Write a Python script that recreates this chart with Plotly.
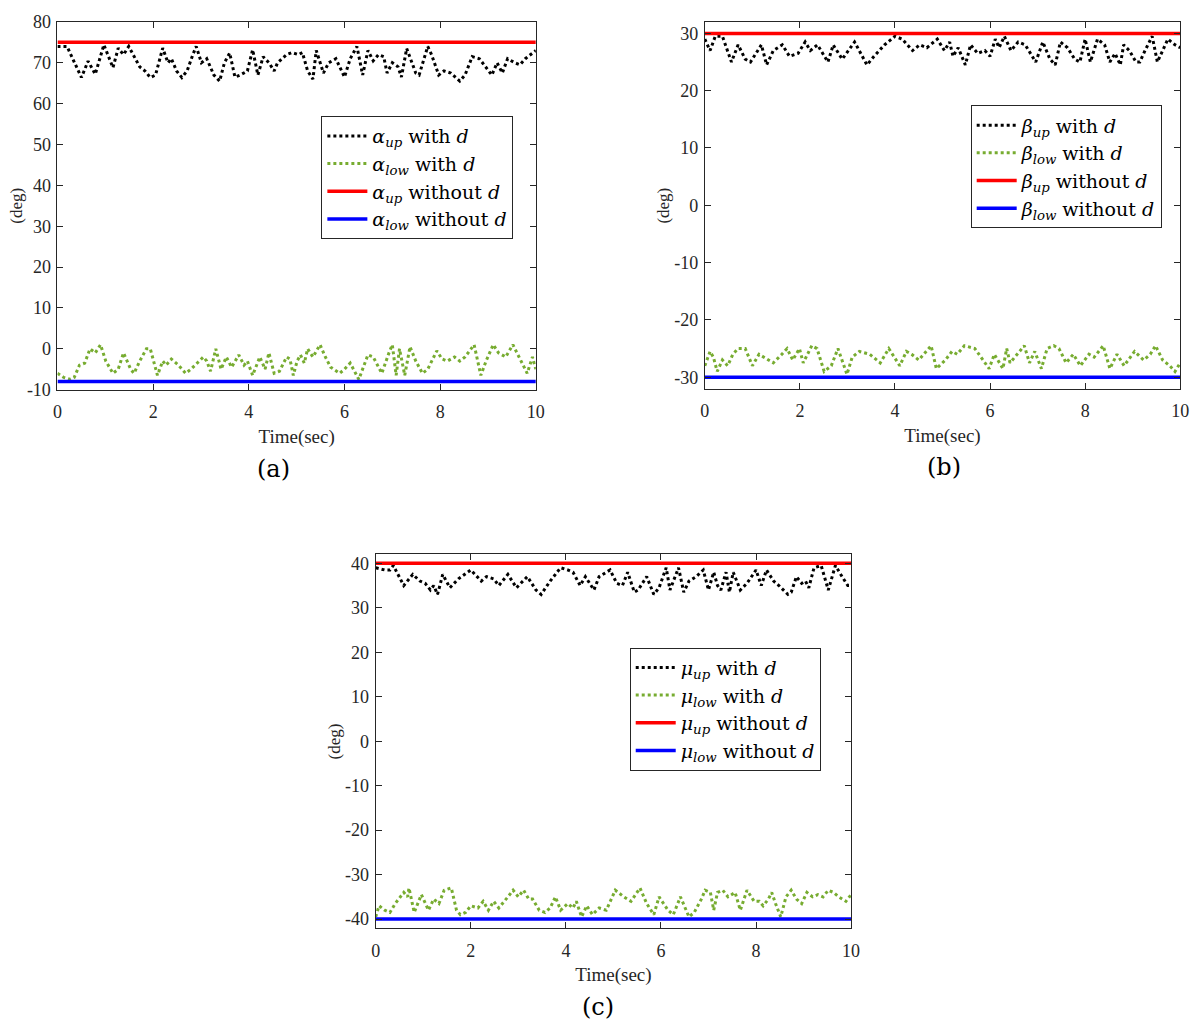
import plotly.graph_objects as go

# ---- panel (a): alpha ----
t_a_up = [0.0, 0.2, 0.5, 0.64, 0.79, 0.97, 1.16, 1.27, 1.38, 1.49, 1.72, 1.83, 1.94, 2.05, 2.2, 2.31,
          2.38, 2.49, 2.6, 2.71, 2.83, 2.9, 3.01, 3.12, 3.27, 3.39, 3.49, 3.6, 3.71, 3.82, 3.97, 4.08,
          4.19, 4.3, 4.42, 4.53, 4.6, 4.79, 4.9, 5.04, 5.12, 5.23, 5.34, 5.41, 5.56, 5.67, 5.82, 6.0,
          6.12, 6.26, 6.38, 6.49, 6.6, 6.71, 6.82, 6.89, 7.0, 7.12, 7.19, 7.3, 7.49, 7.56, 7.74, 7.82,
          7.97, 8.08, 8.22, 8.41, 8.52, 8.67, 8.82, 8.96, 9.08, 9.19, 9.3, 9.41, 9.56, 9.67, 9.78, 10.0]
alpha_up = [74, 74, 66.4, 70.4, 67.2, 74.4, 68.8, 73.6, 72, 74, 69, 68, 66.4, 67, 73.6, 70,
            71, 68, 66.4, 68, 72, 74, 70, 71, 67, 65.5, 70, 72.4, 66.5, 67, 68, 73.2,
            67, 71.5, 70, 68, 70, 72, 72.5, 72, 72.5, 68, 66, 73, 67.5, 70, 71, 66.5,
            71, 74, 67, 73, 70.5, 72, 71.5, 67.5, 70, 69, 66.5, 73.5, 67.5, 67, 74, 72,
            67, 68, 67.5, 65.5, 67, 71.5, 71, 69, 67, 70, 67.5, 71, 70, 69.5, 71, 73]

t_a_low = [0.0, 0.13, 0.27, 0.35, 0.46, 0.57, 0.68, 0.79, 0.9, 1.01, 1.16, 1.27, 1.38, 1.53, 1.6, 1.72,
           1.86, 1.94, 2.09, 2.2, 2.27, 2.38, 2.53, 2.68, 2.79, 2.97, 3.05, 3.12, 3.2, 3.31, 3.42, 3.53,
           3.64, 3.79, 3.9, 3.97, 4.08, 4.23, 4.34, 4.42, 4.53, 4.64, 4.79, 4.86, 4.93, 5.01, 5.08, 5.16,
           5.23, 5.34, 5.49, 5.6, 5.71, 5.9, 6.0, 6.12, 6.19, 6.3, 6.41, 6.49, 6.6, 6.78, 6.93, 7.0,
           7.08, 7.15, 7.26, 7.37, 7.49, 7.63, 7.74, 7.82, 7.93, 8.04, 8.15, 8.3, 8.41, 8.52, 8.71, 8.85,
           8.96, 9.11, 9.22, 9.37, 9.52, 9.67, 9.82, 9.93, 10.0]
alpha_low = [-6, -7, -7.5, -7, -4, -3.5, 0, -1, 1, -3, -6, -5, -1, -5, -6, -3,
             0, 0, -6.5, -3, -4, -2.5, -4, -6, -5, -3, -2, -3, -5.5, 0, -5, -2,
             -4.5, -1.5, -4, -3, -6.5, -2, -5, -1, -6, -5.5, -2, -2.5, -6.5, -3, -1.5, -3.5,
             0, -2, 1, -2, -4.5, -6, -5, -3.5, -5, -7.5, -4, -1.5, -2, -6, -1, 1,
             -6.5, 0, -6.5, 0.5, -3, -6, -5, -3, -0.5, -2.5, -3, -2, -3, -2, 1, -6.5,
             -3, 1, -1, -2, 1, -2.5, -6, -2, -5]

# ---- panel (b): beta ----
t_b_up = [0.0, 0.11, 0.22, 0.37, 0.56, 0.7, 0.85, 0.96, 1.19, 1.3, 1.44, 1.63, 1.78, 1.96, 2.11, 2.22,
          2.37, 2.59, 2.7, 2.89, 3.15, 3.41, 3.56, 3.78, 4.0, 4.15, 4.37, 4.52, 4.67, 4.89, 5.04, 5.15,
          5.22, 5.33, 5.48, 5.59, 5.74, 5.89, 6.0, 6.11, 6.19, 6.3, 6.44, 6.59, 6.74, 6.96, 7.11, 7.26,
          7.37, 7.48, 7.63, 7.78, 7.89, 8.0, 8.11, 8.26, 8.41, 8.52, 8.63, 8.74, 8.81, 8.93, 9.07, 9.15,
          9.26, 9.41, 9.52, 9.63, 9.74, 9.89, 10.0]
beta_up = [29, 27, 29.5, 29.5, 25, 28, 25.5, 25, 28, 24.5, 27, 28, 26, 26.5, 28.5, 27,
           28, 25, 28, 25.5, 28.5, 24.5, 26, 28, 29.5, 29, 27, 28, 27.5, 29, 27, 28.5,
           26, 27.5, 24.5, 28, 26.5, 27, 26, 29, 27.5, 29.5, 27, 28.5, 28, 25, 28.5, 25.5,
           24.5, 28.5, 27.5, 25.5, 25, 29, 25, 29, 28, 25, 26.5, 24.5, 28, 27, 25, 25,
           27, 29.5, 25, 27, 29, 28, 27.5]

t_b_low = [0.0, 0.11, 0.18, 0.26, 0.37, 0.48, 0.59, 0.7, 0.85, 1.0, 1.14, 1.33, 1.44, 1.62, 1.73, 1.85,
           1.99, 2.07, 2.25, 2.36, 2.51, 2.66, 2.8, 2.99, 3.1, 3.25, 3.47, 3.69, 3.87, 4.1, 4.24, 4.35,
           4.5, 4.76, 4.87, 5.06, 5.2, 5.31, 5.46, 5.68, 5.98, 6.09, 6.27, 6.35, 6.42, 6.72, 6.83, 6.94,
           7.08, 7.2, 7.34, 7.45, 7.6, 7.75, 7.9, 8.08, 8.19, 8.38, 8.52, 8.67, 8.82, 9.04, 9.23, 9.37,
           9.48, 9.63, 9.78, 9.89, 10.0]
beta_low = [-28, -25.5, -26.5, -29, -27, -28, -26, -25, -25, -28, -26, -27, -27.5, -26, -25, -27,
            -25, -27.5, -24.5, -25, -29, -28, -25, -29.5, -26.5, -25.5, -26, -27.5, -25, -28, -25.5, -26,
            -27, -24.5, -28.5, -27, -25.5, -26, -24.5, -25, -28.5, -26, -28.5, -25, -27.5, -24.5, -27.5, -25.5,
            -28.5, -25, -24.5, -25, -27.5, -26, -28, -26, -26.5, -24.5, -28.5, -26, -28, -25.5, -27, -26,
            -24.5, -27, -28, -29, -27.5]

# ---- panel (c): mu ----
t_c_up = [0.0, 0.19, 0.3, 0.37, 0.59, 0.78, 0.93, 1.04, 1.15, 1.22, 1.3, 1.41, 1.56, 1.74, 2.0, 2.22,
          2.33, 2.48, 2.59, 2.78, 2.96, 3.19, 3.37, 3.48, 3.67, 3.78, 3.89, 4.04, 4.15, 4.3, 4.41, 4.59,
          4.7, 4.93, 5.07, 5.19, 5.3, 5.44, 5.52, 5.7, 5.85, 5.96, 6.11, 6.19, 6.37, 6.48, 6.59, 6.74,
          6.89, 7.0, 7.11, 7.19, 7.26, 7.37, 7.44, 7.52, 7.67, 7.81, 8.0, 8.11, 8.22, 8.37, 8.48, 8.67,
          8.74, 8.85, 8.96, 9.04, 9.11, 9.22, 9.37, 9.52, 9.67, 9.81, 9.93, 10.0]
mu_up = [39, 38.5, 38.5, 39.5, 35, 37.5, 36, 35.5, 34, 35, 33, 37.5, 34.5, 36.5, 38.5, 36,
         37, 36.5, 35, 37.5, 34.5, 37, 34, 33, 36, 37.5, 39, 38.5, 38, 35, 37, 34,
         37, 38.5, 35.5, 35, 38, 33.5, 34, 37, 33, 34.5, 39, 34, 39, 33.5, 36, 37,
         38.5, 34, 38, 35, 34, 38, 33.5, 38, 34, 35.5, 38.5, 35, 38.5, 36, 35, 33,
         33.5, 37, 35.5, 36, 34.5, 39, 39.5, 34, 39.5, 37, 35, 35]

t_c_low = [0.0, 0.07, 0.19, 0.3, 0.41, 0.52, 0.59, 0.67, 0.7, 0.81, 0.96, 1.11, 1.22, 1.33, 1.44, 1.59,
           1.7, 1.78, 1.89, 2.0, 2.15, 2.26, 2.37, 2.48, 2.59, 2.78, 2.89, 3.0, 3.11, 3.22, 3.3, 3.44,
           3.56, 3.67, 3.78, 3.89, 4.04, 4.15, 4.22, 4.33, 4.44, 4.56, 4.7, 4.85, 4.93, 5.04, 5.22, 5.37,
           5.56, 5.7, 5.85, 5.96, 6.15, 6.26, 6.41, 6.59, 6.7, 6.85, 6.93, 7.04, 7.11, 7.19, 7.3, 7.41,
           7.56, 7.67, 7.81, 7.96, 8.07, 8.15, 8.26, 8.33, 8.41, 8.52, 8.63, 8.74, 8.85, 8.96, 9.07, 9.19,
           9.3, 9.41, 9.52, 9.63, 9.74, 9.89, 10.0]
mu_low = [-39.5, -37, -38, -38.5, -36.5, -35, -34, -35, -33, -38.5, -34.5, -38, -35.5, -36.5, -33.5, -33,
          -38, -39, -38.5, -37, -37.5, -36, -38, -36, -37.5, -35, -33.5, -35, -33.5, -35.5, -35.5, -38,
          -38.5, -37.5, -35, -38, -36.5, -37.5, -36, -39.5, -37, -39, -37.5, -38, -36, -33.5, -35, -36,
          -33, -36.5, -39, -35, -38, -39, -35, -39.5, -38.5, -35.5, -33.5, -34, -38, -34, -33.5, -35,
          -34, -38, -33.5, -36, -36, -37, -35.5, -34, -36.5, -39.5, -35, -33.5, -35.5, -36.5, -34, -35,
          -34.5, -35, -33.5, -34, -35, -36, -34.5]

t_const = [0, 10]
bounds = {"a": (75, -8), "b": (30, -30), "c": (40, -40)}
greek = {"a": "α", "b": "β", "c": "μ"}
yranges = {"a": [-10, 80], "b": [-32, 32], "c": [-42, 42]}
ytick_vals = {"a": [-10, 0, 10, 20, 30, 40, 50, 60, 70, 80],
              "b": [-30, -20, -10, 0, 10, 20, 30],
              "c": [-40, -30, -20, -10, 0, 10, 20, 30, 40]}
xtick_vals = [0, 2, 4, 6, 8, 10]

BLACK = "#000000"
GREEN = "#77AC30"
SERIF = "Liberation Serif, Times New Roman, serif"
AXC = "#262626"

panels = [
    ("a", t_a_up, alpha_up, t_a_low, alpha_low, "x", "y", "legend"),
    ("b", t_b_up, beta_up, t_b_low, beta_low, "x2", "y2", "legend2"),
    ("c", t_c_up, mu_up, t_c_low, mu_low, "x3", "y3", "legend3"),
]

fig = go.Figure()
for key, tu, vu, tl, vl, xa, ya, lg in panels:
    g = greek[key]
    up, low = bounds[key]
    fig.add_trace(go.Scatter(x=tu, y=vu, mode="lines", xaxis=xa, yaxis=ya, legend=lg,
                             line=dict(color=BLACK, width=3, dash="dot"),
                             name="<i>%s</i><sub><i>up</i></sub> with <i>d</i>" % g))
    fig.add_trace(go.Scatter(x=tl, y=vl, mode="lines", xaxis=xa, yaxis=ya, legend=lg,
                             line=dict(color=GREEN, width=3, dash="dot"),
                             name="<i>%s</i><sub><i>low</i></sub> with <i>d</i>" % g))
    fig.add_trace(go.Scatter(x=t_const, y=[up, up], mode="lines", xaxis=xa, yaxis=ya, legend=lg,
                             line=dict(color="#FF0000", width=3.5),
                             name="<i>%s</i><sub><i>up</i></sub> without <i>d</i>" % g))
    fig.add_trace(go.Scatter(x=t_const, y=[low, low], mode="lines", xaxis=xa, yaxis=ya, legend=lg,
                             line=dict(color="#0000FF", width=3.5),
                             name="<i>%s</i><sub><i>low</i></sub> without <i>d</i>" % g))

# page body margin shifts the figure by ~8px
OFF = 8
W, H = 1200.0, 1032.0

def px(x):
    return (x - OFF) / W

def py(y):
    return 1 - (y - OFF) / H

# plot boxes in screen pixels: left, right, top, bottom
boxes = {"a": (53, 537, 12, 387), "b": (708, 1189, 12, 386), "c": (375, 856, 555, 936)}

axis_common = dict(showline=True, linecolor=AXC, linewidth=1, mirror="ticks", ticks="inside",
                   ticklen=6, tickcolor=AXC, showgrid=False, zeroline=False,
                   ticklabeloverflow="allow",
                   tickfont=dict(family=SERIF, size=18, color=AXC))

layout = dict(width=W, height=H, margin=dict(l=0, r=0, t=0, b=0),
              plot_bgcolor="white", paper_bgcolor="white", font=dict(family=SERIF))
names = {"a": ("xaxis", "yaxis", "x", "y"), "b": ("xaxis2", "yaxis2", "x2", "y2"),
         "c": ("xaxis3", "yaxis3", "x3", "y3")}
for k, (xn, yn, xr, yr) in names.items():
    l, r, t, b = boxes[k]
    layout[xn] = dict(axis_common, domain=[px(l), px(r)], range=[0, 10], anchor=yr,
                      tickvals=xtick_vals, ticktext=[str(v) for v in xtick_vals],
                      ticklabelstandoff=6,
                      title=dict(text="Time(sec)", font=dict(family=SERIF, size=19, color=AXC), standoff=8))
    layout[yn] = dict(axis_common, domain=[py(b), py(t)], range=yranges[k], anchor=xr,
                      tickvals=ytick_vals[k], ticktext=[str(v) for v in ytick_vals[k]],
                      ticklabelstandoff=2)

legend_common = dict(bgcolor="white", bordercolor=AXC, borderwidth=1, xanchor="left", yanchor="top",
                     font=dict(family="DejaVu Serif, serif", size=19, color="black"),
                     tracegroupgap=0, itemwidth=40)
layout["legend"] = dict(legend_common, x=px(320), y=py(108))
layout["legend2"] = dict(legend_common, x=px(977), y=py(97))
layout["legend3"] = dict(legend_common, x=px(632), y=py(650))

fig.update_layout(**layout)

# y titles and sub-figure labels
ylab_x = {"a": 12, "b": 666, "c": 333}
cap_pos = {"a": (272, 468), "b": (950, 466), "c": (600, 1017)}
for k in ["a", "b", "c"]:
    l, r, t, b = boxes[k]
    fig.add_annotation(x=px(ylab_x[k]), y=py((t + b) / 2), xref="paper", yref="paper",
                       xanchor="center", yanchor="middle",
                       text="(deg)", textangle=-90, showarrow=False,
                       font=dict(family=SERIF, size=17, color=AXC))
    fig.add_annotation(x=px(cap_pos[k][0]), y=py(cap_pos[k][1]), xref="paper", yref="paper",
                       xanchor="center", yanchor="middle",
                       text="(%s)" % k, showarrow=False,
                       font=dict(family="DejaVu Serif, serif", size=24, color="black"))

fig.write_html("out.html")
